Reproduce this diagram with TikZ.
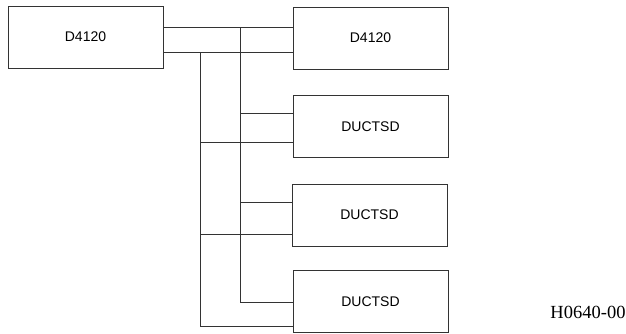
\documentclass[tikz,border=0pt]{standalone}
\usepackage{fontspec}
\setmainfont{Liberation Serif}
\setsansfont{Liberation Sans}
\begin{document}
\begin{tikzpicture}[x=1pt,y=-1pt]
\tikzstyle{every node}+=[inner sep=0pt]
\tikzstyle{unit}=[draw=black!80, line width=0.8pt, minimum width=155pt, minimum height=62pt, font=\sffamily\fontsize{14}{14}\selectfont]
\tikzstyle{wire}=[draw=black!80, line width=0.8pt]
\useasboundingbox (0,0) rectangle (626,333);
\node [unit] (src) at (85.5,37) {D4120};
\node [unit] (dst1) at (370.5,38) {D4120};
\node [unit] (dst2) at (370.5,126.5) {DUCTSD};
\node [unit] (dst3) at (369.5,215) {DUCTSD};
\node [unit] (dst4) at (370.5,301.5) {DUCTSD};
\node [font=\fontsize{18.5}{18.5}\selectfont] (tag) at (588,312) {H0640-00};
\coordinate (busA) at (240,27);
\coordinate (busB) at (200,52);
\draw [wire] (src.east |- busA) -- (dst1.west |- busA);
\draw [wire] (src.east |- busB) -- (dst1.west |- busB);
\draw [wire] (busA) -- (busA |- 0,302) -- (dst4.west |- 0,302);
\draw [wire] (busB) -- (busB |- 0,326) -- (dst4.west |- 0,326);
\draw [wire] (busA |- 0,113) -- (dst2.west |- 0,113);
\draw [wire] (busB |- 0,142) -- (dst2.west |- 0,142);
\draw [wire] (busA |- 0,202) -- (dst3.west |- 0,202);
\draw [wire] (busB |- 0,234) -- (dst3.west |- 0,234);
\end{tikzpicture}
\end{document}
